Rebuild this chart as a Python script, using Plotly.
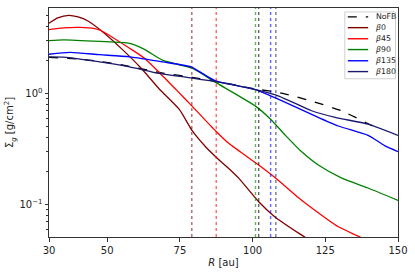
import numpy as np
import plotly.graph_objects as go

# ---- data ----
nofb_R = [30, 40, 47.4, 57.7, 67.9, 79.2, 87.3, 95, 101, 110, 120.3, 130.5, 143.2]
nofb_S = [2.12, 2.05, 1.95, 1.76, 1.55, 1.40, 1.29, 1.18, 1.10, 1.01, 0.855, 0.70, 0.48]

b0_R = [30, 33, 36.8, 40, 43.4, 48, 54.9, 61.7, 67.9, 74.8, 79.3, 83.9, 87.3, 91.9, 95.3, 102.1, 107.8, 116.9, 120]
b0_S = [4.3, 4.8, 5.07, 4.9, 4.51, 3.68, 2.54, 1.69, 1.1, 0.72, 0.46, 0.33, 0.27, 0.21, 0.172, 0.106, 0.077, 0.053, 0.047]

b45_R = [30, 35, 40.6, 45.7, 48, 57.7, 62.8, 67.9, 73.7, 79.2, 87.3, 91.9, 102.1, 107.8, 115.8, 119.2, 129.5, 136.9, 140]
b45_S = [3.76, 3.9, 3.94, 3.85, 3.68, 2.56, 2.08, 1.55, 1.085, 0.77, 0.46, 0.354, 0.227, 0.174, 0.115, 0.098, 0.063, 0.051, 0.046]

b90_R = [30, 35, 47.4, 57.7, 62.8, 69, 79.2, 87.3, 101, 106.1, 111.3, 116.8, 122.6, 130.5, 139.7, 150]
b90_S = [3.0, 3.05, 2.95, 2.83, 2.5, 2.0, 1.69, 1.26, 0.77, 0.59, 0.42, 0.30, 0.227, 0.174, 0.141, 0.109]

b135_R = [30, 37.2, 47.4, 57.7, 69, 78.8, 82.7, 87.3, 101, 109, 120.3, 129.5, 139.7, 145.4, 150]
b135_S = [2.26, 2.35, 2.24, 2.14, 1.93, 1.74, 1.52, 1.30, 1.085, 0.885, 0.65, 0.51, 0.42, 0.34, 0.30]

b180_R = [30, 35, 47.4, 57.7, 67.9, 79.2, 87.3, 101, 109, 120.3, 128.4, 139.7, 150]
b180_S = [2.14, 2.13, 1.93, 1.74, 1.52, 1.38, 1.28, 1.085, 0.95, 0.70, 0.61, 0.53, 0.42]

vline_R = [79.1, 87.5, 101.0, 102.1, 106.2, 108.0]
vline_C = ["maroon", "red", "green", "black", "blue", "midnightblue"]

x_ticks = [30, 50, 75, 100, 125, 150]
y_ticks = [0.1, 1]
y_ticktext = ["10<sup>−1</sup>", "10<sup>0</sup>"]
y_minor = [0.06, 0.07, 0.08, 0.09, 0.2, 0.3, 0.4, 0.5, 0.6, 0.7, 0.8, 0.9, 2, 3, 4, 5]

series = [
    ("NoFB", nofb_R, nofb_S, "black", "dash"),
    ("<i>β</i>0", b0_R, b0_S, "maroon", "solid"),
    ("<i>β</i>45", b45_R, b45_S, "red", "solid"),
    ("<i>β</i>90", b90_R, b90_S, "green", "solid"),
    ("<i>β</i>135", b135_R, b135_S, "blue", "solid"),
    ("<i>β</i>180", b180_R, b180_S, "midnightblue", "solid"),
]

W, H = 415, 274
ML, MR, MT, MB = 49, 15, 7, 34
PW, PH = W - ML - MR, H - MT - MB


def px2paper(x, y):
    return (x - ML) / PW, 1 - (y - MT) / PH


fig = go.Figure()
for name, R, S, col, dash in series:
    fig.add_trace(go.Scatter(x=R, y=S, mode="lines", name=name,
                             line=dict(color=col, width=1.3, dash=dash, shape="spline", smoothing=0.6)))

for r, c in zip(vline_R, vline_C):
    fig.add_vline(x=r, line=dict(color=c, width=1.4, dash="dot"), opacity=0.6)

# manual legend (matplotlib-like compact box)
bx0, by0 = px2paper(346.5, 11)
bx1, by1 = px2paper(397.5, 79)
fig.add_shape(type="rect", xref="paper", yref="paper", x0=bx0, x1=bx1, y0=by1, y1=by0,
              line=dict(color="#d0d0d0", width=1), fillcolor="rgba(255,255,255,0.85)", layer="above")
row_y = [16, 27, 38.3, 49.3, 60.7, 71.7]
for (name, R, S, col, dash), ry in zip(series, row_y):
    lx0, ly = px2paper(349.5, ry)
    lx1, _ = px2paper(370, ry)
    tx, _ = px2paper(375.5, ry)
    fig.add_shape(type="line", xref="paper", yref="paper", x0=lx0, x1=lx1, y0=ly, y1=ly,
                  line=dict(color=col, width=1.4, dash=dash), layer="above")
    fig.add_annotation(xref="paper", yref="paper", x=tx, y=ly, text=name, showarrow=False,
                       xanchor="left", yanchor="middle", font=dict(size=7.8, color="#222"))

font = "DejaVu Sans"
fig.update_layout(
    width=W, height=H,
    margin=dict(l=ML, r=MR, t=MT, b=MB),
    plot_bgcolor="white", paper_bgcolor="white",
    font=dict(family=font, size=10, color="#222"),
    showlegend=False,
)
fig.update_xaxes(
    range=[30, 150], tickvals=x_ticks, ticks="outside", ticklen=3.5, tickcolor="#333",
    showline=True, linecolor="#333", linewidth=1, mirror=True, showgrid=False, zeroline=False,
    title=dict(text="<i>R</i> [au]", standoff=4, font=dict(size=10)),
)
fig.update_yaxes(
    type="log", range=[np.log10(0.051), np.log10(5.9)],
    tickvals=y_ticks, ticktext=y_ticktext, ticks="outside", ticklen=3.5, tickcolor="#333",
    minor=dict(tickvals=y_minor, ticks="outside", ticklen=2, tickcolor="#333"),
    showline=True, linecolor="#333", linewidth=1, mirror=True, showgrid=False, zeroline=False,
    title=dict(text="Σ<sub><i>g</i></sub> [g/cm<sup>2</sup>]", standoff=3, font=dict(size=10)),
)

fig.write_html("out.html", config={"displayModeBar": False},
               post_script="document.body.style.margin='0';document.body.style.padding='0';")
